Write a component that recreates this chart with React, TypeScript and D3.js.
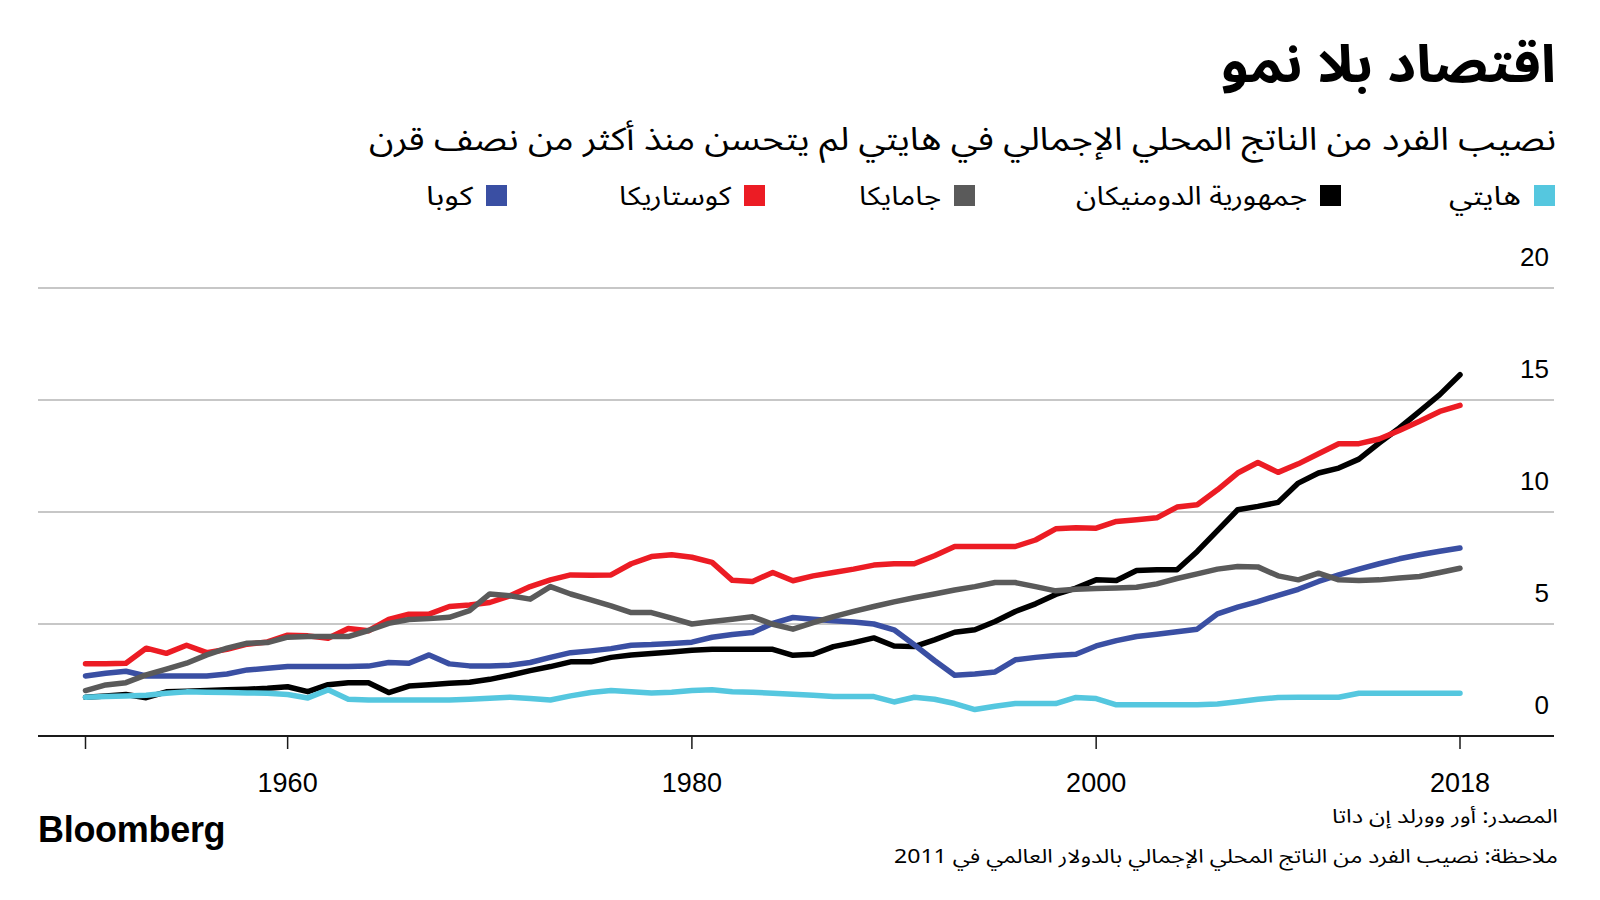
import React from "react";
import * as d3 from "d3";

// ---------- DATA (GDP per capita, thousands of 2011 int'l $) ----------
const years: number[] = d3.range(1950, 2019);

const haiti: number[] = [
  1.73, 1.76, 1.79, 1.82, 1.91, 1.97, 1.95, 1.94, 1.92, 1.91,
  1.85, 1.7, 2.06, 1.64, 1.61, 1.61, 1.61, 1.61, 1.61, 1.64,
  1.68, 1.73, 1.67, 1.61, 1.79, 1.94, 2.03, 1.98, 1.92, 1.95,
  2.03, 2.06, 1.98, 1.95, 1.91, 1.86, 1.82, 1.76, 1.76, 1.76,
  1.52, 1.73, 1.64, 1.45, 1.18, 1.33, 1.45, 1.45, 1.45, 1.72,
  1.67, 1.39, 1.39, 1.39, 1.39, 1.39, 1.43, 1.53, 1.64, 1.72,
  1.73, 1.73, 1.73, 1.91, 1.91, 1.91, 1.91, 1.91, 1.91,
];

const dominican: number[] = [
  1.73, 1.79, 1.85, 1.71, 1.97, 2.0, 2.03, 2.06, 2.09, 2.13,
  2.2, 1.98, 2.29, 2.38, 2.38, 1.94, 2.23, 2.29, 2.35, 2.4,
  2.53, 2.71, 2.92, 3.1, 3.31, 3.31, 3.51, 3.62, 3.68, 3.75,
  3.83, 3.87, 3.87, 3.87, 3.87, 3.6, 3.65, 3.99, 4.17, 4.38,
  4.02, 3.99, 4.29, 4.63, 4.74, 5.11, 5.56, 5.9, 6.32, 6.6,
  6.97, 6.94, 7.39, 7.42, 7.42, 8.24, 9.17, 10.1, 10.25, 10.43,
  11.29, 11.74, 11.96, 12.36, 13.08, 13.75, 14.49, 15.24, 16.13,
];

const jamaica: number[] = [
  2.03, 2.28, 2.38, 2.73, 2.99, 3.25, 3.62, 3.92, 4.14, 4.17,
  4.41, 4.44, 4.44, 4.44, 4.71, 5.03, 5.2, 5.24, 5.3, 5.6,
  6.34, 6.26, 6.11, 6.67, 6.34, 6.08, 5.81, 5.51, 5.51, 5.26,
  5.0, 5.11, 5.21, 5.32, 4.99, 4.77, 5.06, 5.33, 5.56, 5.78,
  5.99, 6.17, 6.34, 6.52, 6.67, 6.85, 6.85, 6.67, 6.48, 6.55,
  6.58, 6.61, 6.64, 6.79, 7.03, 7.24, 7.45, 7.57, 7.55, 7.15,
  6.97, 7.27, 6.97, 6.94, 6.97, 7.05, 7.12, 7.3, 7.49,
];

const costaRica: number[] = [
  3.22, 3.22, 3.25, 3.92, 3.69, 4.05, 3.72, 3.87, 4.1, 4.2,
  4.5, 4.47, 4.36, 4.8, 4.7, 5.2, 5.44, 5.44, 5.78, 5.85,
  5.96, 6.26, 6.67, 6.97, 7.19, 7.18, 7.19, 7.69, 8.01, 8.09,
  7.98, 7.75, 6.95, 6.9, 7.3, 6.93, 7.15, 7.3, 7.45, 7.63,
  7.69, 7.69, 8.05, 8.46, 8.46, 8.46, 8.46, 8.75, 9.25, 9.3,
  9.28, 9.58, 9.65, 9.74, 10.22, 10.32, 10.99, 11.74, 12.21, 11.77,
  12.15, 12.6, 13.05, 13.05, 13.26, 13.64, 14.05, 14.49, 14.76,
];

const cuba: number[] = [
  2.68, 2.8, 2.89, 2.68, 2.68, 2.68, 2.68, 2.77, 2.95, 3.02,
  3.1, 3.1, 3.1, 3.1, 3.12, 3.28, 3.25, 3.62, 3.22, 3.13,
  3.13, 3.16, 3.28, 3.51, 3.72, 3.8, 3.9, 4.05, 4.08, 4.13,
  4.19, 4.41, 4.53, 4.62, 5.03, 5.29, 5.21, 5.15, 5.09, 5.0,
  4.74, 4.07, 3.37, 2.71, 2.77, 2.86, 3.4, 3.51, 3.59, 3.65,
  4.02, 4.26, 4.44, 4.54, 4.65, 4.77, 5.45, 5.75, 6.0, 6.28,
  6.55, 6.9, 7.19, 7.45, 7.69, 7.91, 8.09, 8.25, 8.39,
];

const seriesNames: string[] = ["هايتي", "جمهورية الدومنيكان", "جامايكا", "كوستاريكا", "كوبا"];
const yTicks: number[] = [0, 5, 10, 15, 20];
const xTicks: number[] = [1950, 1960, 1980, 2000, 2018];
const xTickLabels: string[] = ["", "1960", "1980", "2000", "2018"];

const titleText = "اقتصاد بلا نمو";
const subtitleText = "نصيب الفرد من الناتج المحلي الإجمالي في هايتي لم يتحسن منذ أكثر من نصف قرن";
const sourceText = "المصدر: أور وورلد إن داتا";
const noteText = "ملاحظة: نصيب الفرد من الناتج المحلي الإجمالي بالدولار العالمي في 2011";

// ---------- STYLE / LAYOUT ----------
const colors = ["#55c7df", "#000000", "#5a5a5a", "#ec1c24", "#3a4fa3"];
const legendRight = [1555, 1341, 975, 765, 507];
const legendTextWidth = [72, 231, 82, 112, 47];
const drawOrder = [1, 4, 3, 2, 0];
const arFont = "'Noto Sans Arabic', 'Noto Sans', 'DejaVu Sans', sans-serif";
const numFont = "'Liberation Sans', Arial, Helvetica, sans-serif";

export default function App() {
  const W = 1600;
  const H = 900;
  const gridLeft = 38;
  const gridRight = 1554;

  const x = d3.scaleLinear().domain([1950, 2018]).range([85.5, 1460]);
  const y = d3.scaleLinear().domain([0, 20]).range([736, 288]);

  const allSeries = [haiti, dominican, jamaica, costaRica, cuba];
  const line = d3
    .line<number>()
    .x((_, i) => x(years[i]))
    .y((d) => y(d));

  return (
    <svg
      width={W}
      height={H}
      viewBox={`0 0 ${W} ${H}`}
      style={{ position: "absolute", left: 0, top: 0, background: "#fff" }}
    >
      <rect x={0} y={0} width={W} height={H} fill="#fff" />

      {/* Title */}
      <text
        x={1556}
        y={82}
        direction="rtl"
        textAnchor="start"
        fontFamily={arFont}
        fontWeight={700}
        fontSize={52}
        fill="#000"
        textLength={335}
        lengthAdjust="spacingAndGlyphs"
      >
        {titleText}
      </text>
      <text
        x={1556}
        y={150}
        direction="rtl"
        textAnchor="start"
        fontFamily={arFont}
        fontSize={32}
        fill="#000"
        textLength={1187}
        lengthAdjust="spacingAndGlyphs"
      >
        {subtitleText}
      </text>

      {/* Legend */}
      {seriesNames.map((name, i) => (
        <g key={name}>
          <rect x={legendRight[i] - 21} y={185} width={21} height={21} fill={colors[i]} />
          <text
            x={legendRight[i] - 34}
            y={205}
            direction="rtl"
            textAnchor="start"
            fontFamily={arFont}
            fontSize={26}
            fill="#000"
            textLength={legendTextWidth[i]}
            lengthAdjust="spacingAndGlyphs"
          >
            {name}
          </text>
        </g>
      ))}

      {/* Gridlines */}
      {yTicks.slice(1).map((t) => (
        <line
          key={t}
          x1={gridLeft}
          x2={gridRight}
          y1={y(t)}
          y2={y(t)}
          stroke="#b5b5b5"
          strokeWidth={1.5}
        />
      ))}
      {/* Y labels */}
      {yTicks.map((t) => (
        <text
          key={t}
          x={1549}
          y={y(t) - 22}
          textAnchor="end"
          fontFamily={numFont}
          fontSize={26}
          fill="#000"
        >
          {t}
        </text>
      ))}

      {/* Lines */}
      {drawOrder.map((si) => (
        <path
          key={si}
          d={line(allSeries[si]) || ""}
          fill="none"
          stroke={colors[si]}
          strokeWidth={5.5}
          strokeLinejoin="round"
          strokeLinecap="round"
        />
      ))}

      {/* X axis */}
      <line x1={gridLeft} x2={gridRight} y1={y(0)} y2={y(0)} stroke="#1a1a1a" strokeWidth={2} />
      {xTicks.map((t, i) => (
        <g key={t}>
          <line x1={x(t)} x2={x(t)} y1={y(0)} y2={y(0) + 13} stroke="#1a1a1a" strokeWidth={1.5} />
          <text
            x={x(t)}
            y={792}
            textAnchor="middle"
            fontFamily={numFont}
            fontSize={27}
            fill="#000"
          >
            {xTickLabels[i]}
          </text>
        </g>
      ))}

      {/* Footer */}
      <text
        x={38}
        y={842}
        fontFamily={numFont}
        fontWeight={700}
        fontSize={36}
        letterSpacing={-0.3}
        fill="#000"
      >
        Bloomberg
      </text>
      <text
        x={1558}
        y={823}
        direction="rtl"
        textAnchor="start"
        fontFamily={arFont}
        fontSize={19}
        fill="#000"
        textLength={226}
        lengthAdjust="spacingAndGlyphs"
      >
        {sourceText}
      </text>
      <text
        x={1558}
        y={863}
        direction="rtl"
        textAnchor="start"
        fontFamily={arFont}
        fontSize={19}
        fill="#000"
        textLength={664}
        lengthAdjust="spacingAndGlyphs"
      >
        {noteText}
      </text>
    </svg>
  );
}
